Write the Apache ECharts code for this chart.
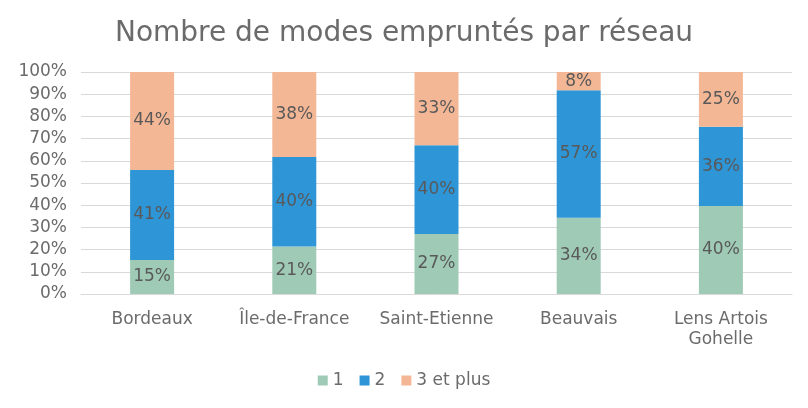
<!DOCTYPE html>
<html><head><meta charset="utf-8">
<script src="https://cdn.jsdelivr.net/npm/echarts@6/dist/echarts.min.js"></script>
<style>html,body{margin:0;padding:0;background:#fff}#c{width:808px;height:408px}</style>
</head><body><div id="c"></div>
<script>
const categories = ['Bordeaux', 'Île-de-France', 'Saint-Etienne', 'Beauvais', 'Lens Artois\nGohelle'];
const s1 = [15.3, 21.4, 27.0, 34.4, 39.6];
const s2 = [40.6, 40.3, 40.0, 57.4, 35.7];
const s3 = [44.1, 38.3, 33.0, 8.2, 24.7];
const seriesNames = ['1', '2', '3 et plus'];
const colors = ['#9fcbb6', '#2e95d6', '#f4b795'];
const font = 'DejaVu Sans';
const chart = echarts.init(document.getElementById('c'));
const mk = (name, data, color) => ({
  name, type: 'bar', stack: 'a', data, barWidth: 44,
  itemStyle: { color },
  label: { show: true, position: 'inside', formatter: p => Math.round(p.value) + '%', color: '#595959', fontSize: 17, fontFamily: font },
  emphasis: { disabled: true }
});
chart.setOption({
  animation: false,
  title: { text: 'Nombre de modes empruntés par réseau', left: 'center', top: 15, textStyle: { fontFamily: font, fontSize: 28, fontWeight: 'normal', color: '#6b6b6b' } },
  legend: { bottom: 14, left: 'center', itemWidth: 10, itemHeight: 10, itemGap: 16, icon: 'rect', textStyle: { fontFamily: font, fontSize: 17, color: '#6b6b6b' }, data: seriesNames },
  grid: { left: 81, right: 16, top: 72, bottom: 114 },
  xAxis: { type: 'category', data: categories, axisLine: { lineStyle: { color: '#d9d9d9' } }, axisTick: { show: false }, axisLabel: { interval: 0, fontFamily: font, fontSize: 17, color: '#6b6b6b', margin: 16, lineHeight: 20 } },
  yAxis: { type: 'value', min: 0, max: 100, interval: 10, axisLabel: { formatter: '{value}%', fontFamily: font, fontSize: 17, color: '#6b6b6b', margin: 14 }, splitLine: { lineStyle: { color: '#d9d9d9' } }, axisLine: { show: false } },
  series: [mk(seriesNames[0], s1, colors[0]), mk(seriesNames[1], s2, colors[1]), mk(seriesNames[2], s3, colors[2])]
});
</script></body></html>
